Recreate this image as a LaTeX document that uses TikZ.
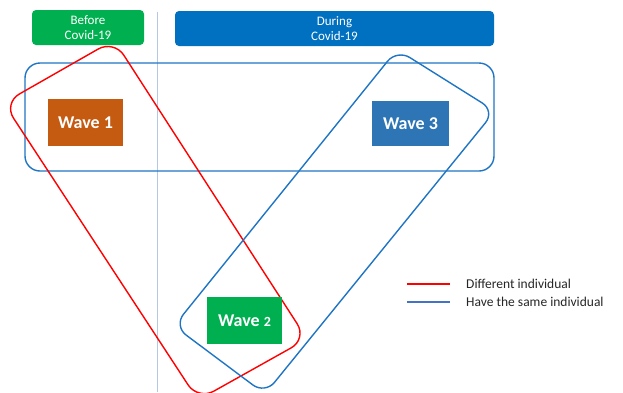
\documentclass[tikz,border=0pt]{standalone}
\usepackage{fontspec}
\setmainfont{Carlito}
\definecolor{hdrgreen}{RGB}{0,176,80}
\definecolor{hdrblue}{RGB}{0,112,192}
\definecolor{wavebrown}{RGB}{197,90,17}
\definecolor{waveblue}{RGB}{46,117,182}
\definecolor{wavegreen}{RGB}{0,176,80}
\definecolor{loopblue}{RGB}{31,117,196}
\definecolor{legblue}{RGB}{68,114,196}
\definecolor{divider}{RGB}{180,199,231}
\definecolor{legtext}{RGB}{38,38,38}
\begin{document}
\begin{tikzpicture}[x=1pt,y=-1pt,
  header/.style={rounded corners=4pt, text=white, align=center,
    font=\fontsize{13}{15}\selectfont, inner sep=0pt},
  wavebox/.style={text=white, inner sep=0pt,
    font=\fontsize{18}{20}\selectfont\bfseries},
  redloop/.style={draw=red, line width=1.4pt, rounded corners=18pt},
  blueloop/.style={draw=loopblue, line width=1.4pt, rounded corners=15pt},
  legline/.style={line width=1.4pt},
  legtxt/.style={anchor=west, inner sep=0pt, text=legtext,
    font=\fontsize{13.5}{15}\selectfont}]
\useasboundingbox (0,0) rectangle (623,392);

% period headers
\node[header, fill=hdrgreen, minimum width=112pt, minimum height=35pt]
  (before) at (88,27.5) {Before\\Covid-19};
\node[header, fill=hdrblue, minimum width=319pt, minimum height=35pt]
  (during) at (334.5,28.5) {During\\Covid-19};

% divider between the two periods
\coordinate (divtop) at (157,12);
\coordinate (divbot) at (157,392);
\draw[divider, line width=1pt] (divtop) -- (divbot);

% loop around waves 1 and 3
\draw[blueloop] (25,63) rectangle (494,171);

% loop around waves 1 and 2
\draw[redloop] (114,40) -- (307,339) -- (198,400) -- (3.6,103) -- cycle;

% loop around waves 3 and 2
\draw[blueloop] (397,49.5) -- (495,111) -- (265,394) -- (174,326) -- cycle;

% waves
\node[wavebox, fill=wavebrown, minimum width=75pt, minimum height=47pt]
  (w1) at (85.5,122.5) {Wave 1};
\node[wavebox, fill=waveblue, minimum width=77pt, minimum height=45pt]
  (w3) at (410.5,123.5) {Wave 3};
\node[wavebox, fill=wavegreen, minimum width=75pt, minimum height=47pt]
  (w2) at (244.5,320.5) {Wave {\fontsize{14}{16}\selectfont 2}};

% legend
\coordinate (l1a) at (407,284);
\coordinate (l1b) at (450,284);
\coordinate (l2a) at (407,302);
\coordinate (l2b) at (450,302);
\draw[legline, red] (l1a) -- (l1b);
\draw[legline, legblue] (l2a) -- (l2b);
\node[legtxt] (t1) at (466,284) {Different individual};
\node[legtxt] (t2) at (466,302) {Have the same individual};
\end{tikzpicture}
\end{document}
